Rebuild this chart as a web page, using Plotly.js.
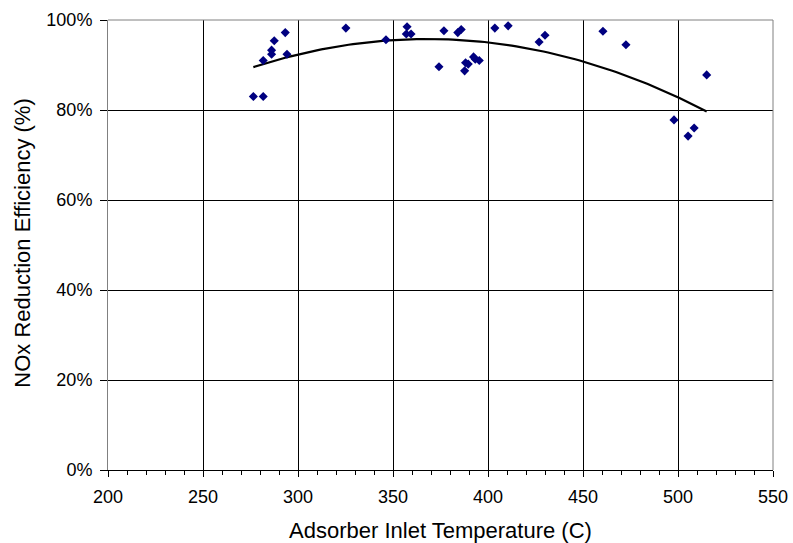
<!DOCTYPE html>
<html>
<head>
<meta charset="utf-8">
<script src="https://cdn.plot.ly/plotly-3.0.1.min.js"></script>
<style>html,body{margin:0;padding:0;background:#fff;}#chart{width:793px;height:543px;}</style>
</head>
<body>
<div id="chart"></div>
<script>
// Adsorber inlet temperature (C)
var temperature = [276.5, 281.7, 281.7, 286.1, 286.1, 287.5, 293.3, 294.2, 325.2, 346.3,
  357.4, 357.0, 359.5, 374.2, 376.8, 384.1, 385.9, 387.7, 388.2, 389.6,
  392.4, 393.3, 395.4, 403.6, 410.6, 426.9, 430.0, 460.5, 472.6, 515.1,
  497.9, 508.5, 505.3];
// NOx reduction efficiency (fraction)
var efficiency = [0.830, 0.830, 0.910, 0.933, 0.924, 0.954, 0.972, 0.924, 0.982, 0.956,
  0.985, 0.969, 0.969, 0.896, 0.976, 0.972, 0.979, 0.887, 0.905, 0.902,
  0.918, 0.913, 0.910, 0.982, 0.987, 0.951, 0.966, 0.975, 0.945, 0.878,
  0.778, 0.760, 0.742];
var xTicks = [200, 250, 300, 350, 400, 450, 500, 550];
var yTicks = [0, 0.2, 0.4, 0.6, 0.8, 1.0];
var yTickLabels = ['0%', '20%', '40%', '60%', '80%', '100%'];

// Second-order polynomial least-squares trendline computed from the data
function polyFit2(xs, ys) {
  var n = xs.length, s = [0,0,0,0,0], t = [0,0,0];
  for (var i = 0; i < n; i++) {
    var x = xs[i], p = 1;
    for (var k = 0; k < 5; k++) { s[k] += p; if (k < 3) t[k] += p * ys[i]; p *= x; }
  }
  var A = [[s[0], s[1], s[2], t[0]], [s[1], s[2], s[3], t[1]], [s[2], s[3], s[4], t[2]]];
  for (var c = 0; c < 3; c++) {
    for (var r = c + 1; r < 3; r++) {
      var f = A[r][c] / A[c][c];
      for (var j = c; j < 4; j++) A[r][j] -= f * A[c][j];
    }
  }
  var coef = [0,0,0];
  for (var r2 = 2; r2 >= 0; r2--) {
    var v = A[r2][3];
    for (var j2 = r2 + 1; j2 < 3; j2++) v -= A[r2][j2] * coef[j2];
    coef[r2] = v / A[r2][r2];
  }
  return coef;
}
var coef = polyFit2(temperature, efficiency);
var xmin = Math.min.apply(null, temperature), xmax = Math.max.apply(null, temperature);
var trendX = [], trendY = [];
for (var i = 0; i <= 100; i++) {
  var xv = xmin + (xmax - xmin) * i / 100;
  trendX.push(xv);
  trendY.push(coef[0] + coef[1] * xv + coef[2] * xv * xv);
}

var font = 'Liberation Sans, Arial, sans-serif';
var data = [
  { x: trendX, y: trendY, type: 'scatter', mode: 'lines',
    line: { color: '#000000', width: 2.2 }, hoverinfo: 'skip', showlegend: false },
  { x: temperature, y: efficiency, type: 'scatter', mode: 'markers',
    marker: { symbol: 'diamond', size: 7, color: '#000080', line: { width: 0 } }, showlegend: false }
];
var layout = {
  width: 793, height: 543,
  margin: { l: 108, r: 20, t: 20, b: 73 },
  paper_bgcolor: '#ffffff', plot_bgcolor: '#ffffff',
  showlegend: false,
  font: { family: font, color: '#000000', size: 18 },
  xaxis: {
    range: [200, 550], tickvals: xTicks, ticktext: xTicks.map(String),
    showgrid: true, gridcolor: '#000000', gridwidth: 1,
    showline: true, linecolor: '#000000', linewidth: 1,
    ticks: 'outside', ticklen: 6, tickcolor: '#000000', tickwidth: 1,
    minor: { dtick: 10, ticks: 'outside', ticklen: 4, tickcolor: '#000000', showgrid: false },
    zeroline: false, tickfont: { size: 18, family: font }, ticklabelstandoff: 4,
    title: { text: 'Adsorber Inlet Temperature (C)', font: { size: 22, family: font }, standoff: 18 }
  },
  yaxis: {
    range: [0, 1], tickvals: yTicks, ticktext: yTickLabels,
    showgrid: true, gridcolor: '#000000', gridwidth: 1,
    showline: true, linecolor: '#808080', linewidth: 1,
    ticks: 'outside', ticklen: 7, tickcolor: '#000000', tickwidth: 1,
    zeroline: false, tickfont: { size: 18, family: font }, ticklabelstandoff: 4,
    title: { text: '' }
  },
  annotations: [
    { text: 'NOx Reduction Efficiency (%)', xref: 'paper', yref: 'paper', x: -0.128, y: 0.505,
      xanchor: 'center', yanchor: 'middle', textangle: -90, showarrow: false,
      font: { size: 22, family: font, color: '#000000' } }
  ],
  shapes: [
    { type: 'line', xref: 'paper', yref: 'paper', x0: 0, x1: 1, y0: 1, y1: 1,
      line: { color: '#808080', width: 1 }, layer: 'above' },
    { type: 'line', xref: 'paper', yref: 'paper', x0: 1, x1: 1, y0: 0, y1: 1,
      line: { color: '#808080', width: 1 }, layer: 'above' }
  ]
};
Plotly.newPlot('chart', data, layout, { displayModeBar: false, staticPlot: true });
</script>
</body>
</html>
